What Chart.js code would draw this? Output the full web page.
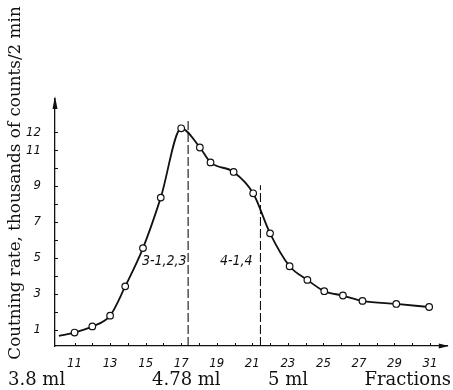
<!DOCTYPE html>
<html>
<head>
<meta charset="utf-8">
<script src="https://cdn.jsdelivr.net/npm/chart.js@4"></script>
<style>
  html, body { margin: 0; padding: 0; background: #fff; }
  #wrap { width: 453px; height: 390px; }
</style>
</head>
<body>
<div id="wrap"><canvas id="c" width="453" height="390"></canvas></div>
<script>
// ---- data ----
const fractions = [10.12, 11, 12, 13, 13.85, 14.85, 15.85, 17, 18.05, 18.65, 19.95, 21.05, 22, 23.1, 24.1, 25.05, 26.1, 27.2, 29.1, 30.95];
const countRate = [0.67, 0.85, 1.19, 1.79, 3.42, 5.55, 8.36, 12.22, 11.15, 10.32, 9.79, 8.60, 6.37, 4.54, 3.78, 3.15, 2.91, 2.61, 2.44, 2.27];
const markerShown = [false, true, true, true, true, true, true, true, true, true, true, true, true, true, true, true, true, true, true, true];

const xTicks = [11, 12, 13, 14, 15, 16, 17, 18, 19, 20, 21, 22, 23, 24, 25, 26, 27, 28, 29, 30, 31];
const xTickLabels = [11, 13, 15, 17, 19, 21, 23, 25, 27, 29, 31];
const yTicks = [1, 2, 3, 4, 5, 6, 7, 8, 9, 10, 11, 12];
const yTickLabels = [1, 3, 5, 7, 9, 11, 12];

const dividerX = [17.39, 21.46];
const dividerTop = [12.74, 9.05];
const dividerLabels = ['3-1,2,3', '4-1,4'];
const dividerLabelY = 4.8;

const volumeLabels = ['3.8 ml', '4.78 ml', '5 ml', 'Fractions'];
const yTitle = 'Coutning rate, thousands of counts/2 min';

const X_MIN = 9.9, X_MAX = 32, Y_MIN = 0.1, Y_MAX = 13.85;

// ---- build datasets ----
const curve = fractions.map((f, i) => ({ x: f, y: countRate[i] }));
const dividerSets = dividerX.map((x, i) => ({
  type: 'line',
  data: [{ x: x, y: Y_MIN }, { x: x, y: dividerTop[i] }],
  borderColor: '#111',
  borderWidth: 1.1,
  borderDash: [9, 3],
  pointRadius: 0,
  fill: false,
  tension: 0
}));

const tickFont = { family: "'DejaVu Sans Condensed', 'DejaVu Sans', sans-serif", size: 13, style: 'italic' };

const decor = {
  id: 'decor',
  afterDraw(chart) {
    const ctx = chart.ctx;
    const xs = chart.scales.x, ys = chart.scales.y;
    const area = chart.chartArea;
    ctx.save();
    ctx.strokeStyle = '#111';
    ctx.fillStyle = '#111';
    ctx.lineWidth = 1;
    // inward tick marks
    xTicks.forEach(v => {
      const px = Math.round(xs.getPixelForValue(v)) + 0.5;
      ctx.beginPath(); ctx.moveTo(px, area.bottom); ctx.lineTo(px, area.bottom - 3); ctx.stroke();
    });
    yTicks.forEach(v => {
      const py = Math.round(ys.getPixelForValue(v)) + 0.5;
      ctx.beginPath(); ctx.moveTo(area.left, py); ctx.lineTo(area.left + 3, py); ctx.stroke();
    });
    // arrows
    ctx.beginPath();
    ctx.moveTo(area.left, area.top - 3);
    ctx.lineTo(area.left - 2.5, area.top + 10);
    ctx.lineTo(area.left + 2.5, area.top + 10);
    ctx.closePath(); ctx.fill();
    ctx.beginPath();
    ctx.moveTo(area.right + 1, area.bottom);
    ctx.lineTo(area.right - 9, area.bottom - 2.5);
    ctx.lineTo(area.right - 9, area.bottom + 2.5);
    ctx.closePath(); ctx.fill();
    // divider labels
    ctx.font = "italic 14px 'DejaVu Sans Condensed', 'DejaVu Sans', sans-serif";
    ctx.textAlign = 'right';
    ctx.textBaseline = 'middle';
    const gap = [1.5, 8];
    dividerLabels.forEach((t, i) => {
      ctx.fillText(t, xs.getPixelForValue(dividerX[i]) - gap[i], ys.getPixelForValue(dividerLabelY));
    });
    // volume labels under axis
    ctx.font = "18px 'DejaVu Serif', serif";
    ctx.textBaseline = 'alphabetic';
    const vx = [8, 152, 268, 451];
    const va = ['left', 'left', 'left', 'right'];
    volumeLabels.forEach((t, i) => {
      ctx.textAlign = va[i];
      ctx.fillText(t, vx[i], 385);
    });
    // y title
    ctx.save();
    ctx.translate(16, 183);
    ctx.rotate(-Math.PI / 2);
    ctx.textAlign = 'center';
    ctx.textBaseline = 'middle';
    ctx.font = "16.8px 'DejaVu Serif', serif";
    ctx.fillText(yTitle, 0, 0);
    ctx.restore();
    ctx.restore();
  }
};

new Chart(document.getElementById('c'), {
  type: 'line',
  data: {
    datasets: [{
      data: curve,
      borderColor: '#111',
      borderWidth: 1.8,
      cubicInterpolationMode: 'monotone',
      pointRadius: markerShown.map(s => s ? 3.3 : 0),
      pointBackgroundColor: '#fff',
      pointBorderColor: '#111',
      pointBorderWidth: 1.2,
      fill: false
    }, ...dividerSets]
  },
  options: {
    responsive: false,
    animation: false,
    events: [],
    layout: { padding: { top: 99, right: 2, left: 0, bottom: 0 } },
    plugins: { legend: { display: false }, tooltip: { enabled: false }, title: { display: false } },
    scales: {
      x: {
        type: 'linear',
        min: X_MIN, max: X_MAX,
        afterFit(s) { s.height = 44; },
        afterBuildTicks(s) { s.ticks = xTicks.map(v => ({ value: v })); },
        grid: { display: false },
        border: { display: true, color: '#111', width: 1.3 },
        ticks: {
          color: '#111', font: tickFont, padding: 2, maxRotation: 0, autoSkip: false,
          callback: v => xTickLabels.includes(v) ? String(v) : ''
        }
      },
      y: {
        type: 'linear',
        min: Y_MIN, max: Y_MAX,
        afterFit(s) { s.width = 55; },
        afterBuildTicks(s) { s.ticks = yTicks.map(v => ({ value: v })); },
        grid: { display: false },
        border: { display: true, color: '#111', width: 1.3 },
        ticks: {
          color: '#111', font: tickFont, padding: 6, autoSkip: false,
          callback: v => yTickLabels.includes(v) ? String(v) : ''
        }
      }
    }
  },
  plugins: [decor]
});
</script>
</body>
</html>
